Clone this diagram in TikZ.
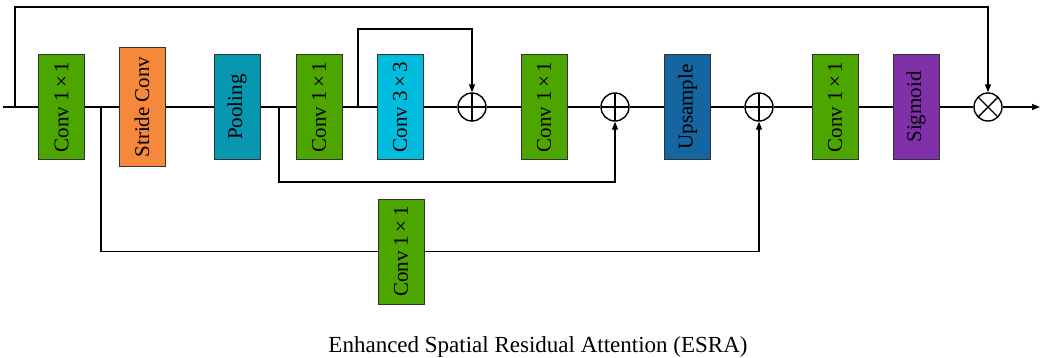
\documentclass[tikz,border=0pt]{standalone}
\usepackage{fontspec}
\setmainfont{Liberation Serif}
\usetikzlibrary{arrows.meta}

\definecolor{convgreen}{RGB}{77,166,0}
\definecolor{strideorange}{RGB}{245,136,58}
\definecolor{poolteal}{RGB}{7,151,176}
\definecolor{convcyan}{RGB}{0,189,224}
\definecolor{upblue}{RGB}{21,101,160}
\definecolor{sigpurple}{RGB}{128,48,168}
\definecolor{boxedge}{RGB}{50,50,50}

\newcommand{\kx}{\,×\,}

\tikzset{
  block/.style={draw=boxedge, line width=1pt, rotate=90, inner sep=0pt,
    minimum width=105pt, minimum height=46pt,
    font=\fontsize{21}{25}\selectfont},
  tallblock/.style={block, minimum width=119pt},
  opnode/.style={circle, draw, line width=1.4pt, minimum size=28pt, inner sep=0pt},
  addop/.style={opnode, path picture={
    \draw[line width=1.4pt] (path picture bounding box.north) -- (path picture bounding box.south);
    \draw[line width=1.4pt] (path picture bounding box.west) -- (path picture bounding box.east);}},
  mulop/.style={opnode, path picture={
    \draw[line width=1.4pt] (path picture bounding box.north west) -- (path picture bounding box.south east);
    \draw[line width=1.4pt] (path picture bounding box.north east) -- (path picture bounding box.south west);}},
  wire/.style={line width=1.4pt},
  arrow/.style={wire, -{Triangle[length=8pt,width=6pt]}},
}

\begin{document}
\begin{tikzpicture}[x=1pt, y=-1pt]
  \useasboundingbox (0,0) rectangle (1041,357);

  % main row of blocks
  \node[block, fill=convgreen]      (c1)   at (61.5,107)  {Conv 1\kx1};
  \node[tallblock, fill=strideorange] (sc) at (142,107)   {Stride Conv};
  \node[block, fill=poolteal]       (pool) at (237,107)   {Pooling};
  \node[block, fill=convgreen]      (c2)   at (319,107)   {Conv 1\kx1};
  \node[block, fill=convcyan]       (c3)   at (400,107)   {Conv 3\kx3};
  \node[addop]                      (add1) at (472,107)   {};
  \node[block, fill=convgreen]      (c4)   at (544,107)   {Conv 1\kx1};
  \node[addop]                      (add2) at (615,107)   {};
  \node[block, fill=upblue]         (up)   at (687.5,107) {Upsample};
  \node[addop]                      (add3) at (759,107)   {};
  \node[block, fill=convgreen]      (c5)   at (835,107)   {Conv 1\kx1};
  \node[block, fill=sigpurple]      (sig)  at (916,107)   {Sigmoid};
  \node[mulop]                      (mul)  at (988,107)   {};

  % lower branch block
  \node[block, fill=convgreen]      (bc)   at (401,251.5) {Conv 1\kx1};

  % junctions and routing points
  \coordinate (in)      at (3,107);
  \coordinate (out)     at (1040,107);
  \coordinate (j0)      at (15,107);
  \coordinate (j1)      at (101,107);
  \coordinate (j2)      at (279,107);
  \coordinate (j3)      at (358,107);
  \coordinate (topline) at (15,7);
  \coordinate (skiptop) at (358,29);
  \coordinate (poollow) at (279,182);

  % main signal path
  \draw[wire] (in) -- (c1);
  \draw[wire] (c1) -- (sc);
  \draw[wire] (sc) -- (pool);
  \draw[wire] (pool) -- (c2);
  \draw[wire] (c2) -- (c3);
  \draw[wire] (c3) -- (add1);
  \draw[wire] (add1) -- (c4);
  \draw[wire] (c4) -- (add2);
  \draw[wire] (add2) -- (up);
  \draw[wire] (up) -- (add3);
  \draw[wire] (add3) -- (c5);
  \draw[wire] (c5) -- (sig);
  \draw[wire] (sig) -- (mul);
  \draw[arrow] (mul) -- (out);

  % skip connections
  \draw[arrow] (j0) -- (topline) -| (mul);
  \draw[arrow] (j3) -- (skiptop) -| (add1);
  \draw[arrow] (j2) -- (poollow) -| (add2);
  \draw[wire] (j1) |- (bc);
  \draw[arrow] (bc) -| (add3);

  % caption
  \node[anchor=base, font=\fontsize{23}{27}\selectfont] (caption) at (538,352)
    {Enhanced Spatial Residual Attention (ESRA)};
\end{tikzpicture}
\end{document}
